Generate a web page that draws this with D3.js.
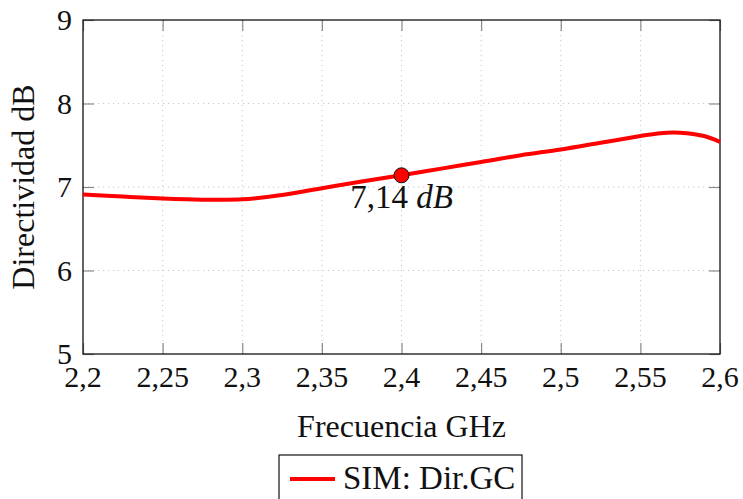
<!DOCTYPE html>
<html>
<head>
<meta charset="utf-8">
<script src="https://cdn.jsdelivr.net/npm/d3@7"></script>
<style>
    body { margin: 0; background: #fff; }
</style>
</head>
<body>
<div id="chart"></div>
<script>

// frequency (GHz) and simulated directivity (dB)
const freqs = [2.2, 2.225, 2.25, 2.275, 2.3, 2.325, 2.35, 2.375, 2.4, 2.425, 2.45, 2.475, 2.5, 2.525, 2.55, 2.5625, 2.575, 2.59, 2.6];
const directivity = [6.91, 6.885, 6.862, 6.848, 6.852, 6.905, 6.985, 7.065, 7.14, 7.22, 7.3, 7.38, 7.45, 7.53, 7.61, 7.645, 7.65, 7.61, 7.54];

const xTicks = [2.2, 2.25, 2.3, 2.35, 2.4, 2.45, 2.5, 2.55, 2.6];
const yTicks = [5, 6, 7, 8, 9];

// highlighted point
const marker = {freq: 2.4, value: 7.14, label: "7,14"};

const seriesName = "SIM: Dir.GC";

const serif = "Liberation Serif";

let width = 743, height = 499;
let margin = {top: 20, right: 23, bottom: 145, left: 83};
let w = width - margin.left - margin.right,
    h = height - margin.top - margin.bottom;

let svg = d3.select("#chart").append("svg")
    .attr("width", width)
    .attr("height", height);

let g = svg.append("g")
    .attr("transform", "translate(" + margin.left + "," + margin.top + ")");

let x = d3.scaleLinear().domain([2.2, 2.6]).range([0, w]);
let y = d3.scaleLinear().domain([5, 9]).range([h, 0]);

let fmt = d => String(d).replace(".", ",");

// dotted grid
g.append("g").selectAll("line")
    .data(xTicks.slice(1, -1))
    .enter().append("line")
    .attr("x1", d => x(d)).attr("x2", d => x(d))
    .attr("y1", 0).attr("y2", h)
    .attr("stroke", "#c8c8c8")
    .attr("stroke-dasharray", "1.2,3.8");
g.append("g").selectAll("line")
    .data(yTicks.slice(1, -1))
    .enter().append("line")
    .attr("y1", d => y(d)).attr("y2", d => y(d))
    .attr("x1", 0).attr("x2", w)
    .attr("stroke", "#c8c8c8")
    .attr("stroke-dasharray", "1.2,3.8");

// inner ticks on all four sides
let tickLen = 11;
let xAxisB = d3.axisBottom(x).tickValues(xTicks).tickSize(-tickLen).tickFormat("");
let xAxisT = d3.axisTop(x).tickValues(xTicks).tickSize(-tickLen).tickFormat("");
let yAxisL = d3.axisLeft(y).tickValues(yTicks).tickSize(-tickLen).tickFormat("");
let yAxisR = d3.axisRight(y).tickValues(yTicks).tickSize(-tickLen).tickFormat("");

g.append("g").attr("transform", "translate(0," + h + ")").call(xAxisB);
g.append("g").call(xAxisT);
g.append("g").call(yAxisL);
g.append("g").attr("transform", "translate(" + w + ",0)").call(yAxisR);

g.selectAll(".tick line").attr("stroke", "#8a8a8a").attr("stroke-width", 1.2);
g.selectAll(".domain").remove();

// frame
g.append("rect")
    .attr("width", w).attr("height", h)
    .attr("fill", "none")
    .attr("stroke", "#111")
    .attr("stroke-width", 1.3);

// tick labels
g.append("g").selectAll("text")
    .data(xTicks)
    .enter().append("text")
    .attr("x", d => x(d))
    .attr("y", h + 33)
    .attr("text-anchor", "middle")
    .attr("font-family", serif)
    .attr("font-size", 30)
    .attr("fill", "#111")
    .text(fmt);

g.append("g").selectAll("text")
    .data(yTicks)
    .enter().append("text")
    .attr("x", -11)
    .attr("y", d => y(d) + 10)
    .attr("text-anchor", "end")
    .attr("font-family", serif)
    .attr("font-size", 30)
    .attr("fill", "#111")
    .text(fmt);

// axis titles
svg.append("text")
    .attr("x", margin.left + w / 2)
    .attr("y", 437)
    .attr("text-anchor", "middle")
    .attr("font-family", serif)
    .attr("font-size", 32)
    .attr("fill", "#111")
    .text("Frecuencia GHz");

svg.append("text")
    .attr("transform", "translate(34," + (margin.top + h / 2) + ") rotate(-90)")
    .attr("text-anchor", "middle")
    .attr("font-family", serif)
    .attr("font-size", 32)
    .attr("fill", "#111")
    .text("Directividad dB");

// curve
let line = d3.line()
    .x((d, i) => x(freqs[i]))
    .y(d => y(d))
    .curve(d3.curveCatmullRom.alpha(0.5));

g.append("path")
    .datum(directivity)
    .attr("fill", "none")
    .attr("stroke", "#ff0000")
    .attr("stroke-width", 4)
    .attr("d", line);

// marked point
g.append("circle")
    .attr("cx", x(marker.freq))
    .attr("cy", y(marker.value))
    .attr("r", 7.5)
    .attr("fill", "#ff0000")
    .attr("stroke", "#111")
    .attr("stroke-width", 1);

let lbl = g.append("text")
    .attr("x", x(marker.freq))
    .attr("y", y(marker.value) + 33)
    .attr("text-anchor", "middle")
    .attr("font-family", serif)
    .attr("font-size", 33)
    .attr("fill", "#111");
lbl.append("tspan").text(marker.label + " ");
lbl.append("tspan").attr("font-style", "italic").text("dB");

// legend
let legend = svg.append("g").attr("transform", "translate(279,455)");
legend.append("rect")
    .attr("width", 243).attr("height", 60)
    .attr("fill", "#fff")
    .attr("stroke", "#111")
    .attr("stroke-width", 1.2);
legend.append("line")
    .attr("x1", 11).attr("x2", 56)
    .attr("y1", 24).attr("y2", 24)
    .attr("stroke", "#ff0000")
    .attr("stroke-width", 4);
legend.append("text")
    .attr("x", 64)
    .attr("y", 34)
    .attr("font-family", serif)
    .attr("font-size", 33)
    .attr("fill", "#111")
    .text(seriesName);

</script>
</body>
</html>
